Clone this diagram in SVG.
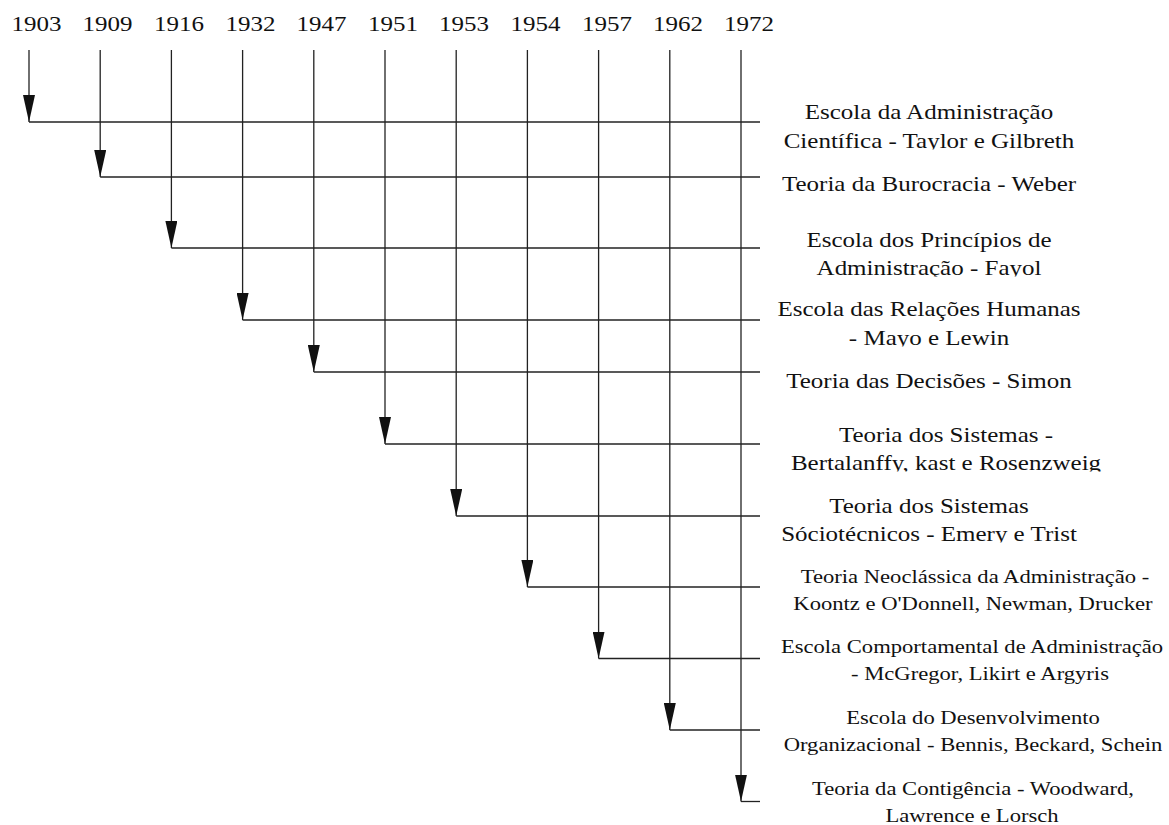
<svg xmlns="http://www.w3.org/2000/svg" width="1169" height="825" viewBox="0 0 1169 825">
<style>
.ln{stroke:#222;stroke-width:1.3;fill:none}
.yr{font-family:"Liberation Serif","Times New Roman",serif;font-size:21px;fill:#111;text-anchor:middle}
.lb{font-family:"Liberation Serif","Times New Roman",serif;font-size:21px;fill:#111;text-anchor:middle}
.ls{font-family:"Liberation Serif","Times New Roman",serif;font-size:19px;fill:#111;text-anchor:middle}
</style>
<defs>
<marker id="ah" viewBox="0 0 27 12" refX="27" refY="6" markerWidth="27" markerHeight="12" markerUnits="userSpaceOnUse" orient="auto">
<path d="M0,0 L27,6 L0,12 z" fill="#111"/>
</marker>
<clipPath id="c1"><rect x="700" y="125" width="469" height="24.5"/></clipPath>
<clipPath id="c3"><rect x="700" y="252" width="469" height="24.5"/></clipPath>
<clipPath id="c4"><rect x="700" y="322" width="469" height="24.5"/></clipPath>
<clipPath id="c6"><rect x="700" y="447" width="469" height="24.5"/></clipPath>
<clipPath id="c7"><rect x="700" y="518" width="469" height="24.5"/></clipPath>
</defs>
<rect width="1169" height="825" fill="#fff"/>

<g id="years">
<g id="y1903"><text class="yr" transform="matrix(1.19 0 0 1 36.5 31)">1903</text></g>
<g id="y1909"><text class="yr" transform="matrix(1.19 0 0 1 107.5 31)">1909</text></g>
<g id="y1916"><text class="yr" transform="matrix(1.19 0 0 1 179 31)">1916</text></g>
<g id="y1932"><text class="yr" transform="matrix(1.19 0 0 1 250.5 31)">1932</text></g>
<g id="y1947"><text class="yr" transform="matrix(1.19 0 0 1 321.5 31)">1947</text></g>
<g id="y1951"><text class="yr" transform="matrix(1.19 0 0 1 393 31)">1951</text></g>
<g id="y1953"><text class="yr" transform="matrix(1.19 0 0 1 464 31)">1953</text></g>
<g id="y1954"><text class="yr" transform="matrix(1.19 0 0 1 535.5 31)">1954</text></g>
<g id="y1957"><text class="yr" transform="matrix(1.19 0 0 1 607 31)">1957</text></g>
<g id="y1962"><text class="yr" transform="matrix(1.19 0 0 1 678 31)">1962</text></g>
<g id="y1972"><text class="yr" transform="matrix(1.19 0 0 1 749 31)">1972</text></g>
</g>

<g id="connectors">
<path class="ln" d="M29,122 H760"/>
<path class="ln" d="M29,50 V122" marker-end="url(#ah)"/>
<path class="ln" d="M100.2,50 V177" marker-end="url(#ah)"/>
<path class="ln" d="M100.2,177 H760"/>
<path class="ln" d="M171.4,50 V248" marker-end="url(#ah)"/>
<path class="ln" d="M171.4,248 H760"/>
<path class="ln" d="M242.6,50 V320" marker-end="url(#ah)"/>
<path class="ln" d="M242.6,320 H760"/>
<path class="ln" d="M313.8,50 V372" marker-end="url(#ah)"/>
<path class="ln" d="M313.8,372 H760"/>
<path class="ln" d="M385,50 V444" marker-end="url(#ah)"/>
<path class="ln" d="M385,444 H760"/>
<path class="ln" d="M456.2,50 V516" marker-end="url(#ah)"/>
<path class="ln" d="M456.2,516 H760"/>
<path class="ln" d="M527.4,50 V587" marker-end="url(#ah)"/>
<path class="ln" d="M527.4,587 H760"/>
<path class="ln" d="M598.6,50 V658.5" marker-end="url(#ah)"/>
<path class="ln" d="M598.6,658.5 H760"/>
<path class="ln" d="M669.8,50 V730" marker-end="url(#ah)"/>
<path class="ln" d="M669.8,730 H760"/>
<path class="ln" d="M741,50 V801.5" marker-end="url(#ah)"/>
<path class="ln" d="M741,801.5 H760"/>
</g>

<g id="n1">
<text class="lb" transform="matrix(1.19 0 0 1 929 119)">Escola da Administração</text>
<g clip-path="url(#c1)"><text class="lb" transform="matrix(1.19 0 0 1 929 148)">Científica - Taylor e Gilbreth</text></g>
</g>
<g id="n2">
<text class="lb" transform="matrix(1.19 0 0 1 929 191)">Teoria da Burocracia - Weber</text>
</g>
<g id="n3">
<text class="lb" transform="matrix(1.19 0 0 1 929 247)">Escola dos Princípios de</text>
<g clip-path="url(#c3)"><text class="lb" transform="matrix(1.19 0 0 1 929 275)">Administração - Fayol</text></g>
</g>
<g id="n4">
<text class="lb" transform="matrix(1.19 0 0 1 929 316)">Escola das Relações Humanas</text>
<g clip-path="url(#c4)"><text class="lb" transform="matrix(1.19 0 0 1 929 345)">- Mayo e Lewin</text></g>
</g>
<g id="n5">
<text class="lb" transform="matrix(1.19 0 0 1 929 388)">Teoria das Decisões - Simon</text>
</g>
<g id="n6">
<text class="lb" transform="matrix(1.19 0 0 1 946 442)">Teoria dos Sistemas -</text>
<g clip-path="url(#c6)"><text class="lb" transform="matrix(1.19 0 0 1 946 470)">Bertalanffy, kast e Rosenzweig</text></g>
</g>
<g id="n7">
<text class="lb" transform="matrix(1.19 0 0 1 929 513)">Teoria dos Sistemas</text>
<g clip-path="url(#c7)"><text class="lb" transform="matrix(1.19 0 0 1 929 541)">Sóciotécnicos - Emery e Trist</text></g>
</g>
<g id="n8">
<text class="ls" transform="matrix(1.19 0 0 1 975 583)">Teoria Neoclássica da Administração -</text>
<text class="ls" transform="matrix(1.19 0 0 1 973 610)">Koontz e O'Donnell, Newman, Drucker</text>
</g>
<g id="n9">
<text class="ls" transform="matrix(1.19 0 0 1 972 653)">Escola Comportamental de Administração</text>
<text class="ls" transform="matrix(1.19 0 0 1 980 680)">- McGregor, Likirt e Argyris</text>
</g>
<g id="n10">
<text class="ls" transform="matrix(1.19 0 0 1 973 724)">Escola do Desenvolvimento</text>
<text class="ls" transform="matrix(1.19 0 0 1 973 751)">Organizacional - Bennis, Beckard, Schein</text>
</g>
<g id="n11">
<text class="ls" transform="matrix(1.19 0 0 1 973 795)">Teoria da Contigência - Woodward,</text>
<text class="ls" transform="matrix(1.19 0 0 1 972 822)">Lawrence e Lorsch</text>
</g>
</svg>
